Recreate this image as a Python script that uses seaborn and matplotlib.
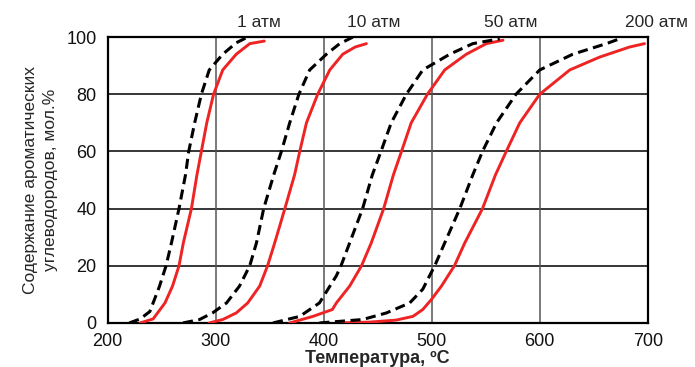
import seaborn as sns
import pandas as pd
from matplotlib import pyplot as plt

# values (temperature in C, aromatics content in mol.%)
pressures = ["1 атм", "10 атм", "50 атм", "200 атм"]
label_x = [340, 446, 573, 708]

# black dashed curves
t_dash_1 = [220, 230, 239, 248, 254, 259, 266, 272, 275, 280.5, 286.7, 294, 306.5, 319, 329.6]
c_dash_1 = [0, 1.4, 4, 12.9, 20, 28, 40, 51.8, 60, 70, 80, 88.5, 94, 98, 100]
t_dash_10 = [269.7, 285, 297, 310, 322, 331.5, 337.7, 344.4, 353.7, 360.8, 368.5, 377, 387, 402.5, 414.8, 427]
c_dash_10 = [0, 1.2, 3.5, 7, 12.9, 20, 28, 40, 51.8, 60, 70, 80, 88.5, 94, 97.7, 100]
t_dash_50 = [353, 377.8, 396, 411.7, 416, 424, 436, 445, 453, 462.5, 476.5, 491.7, 516.7, 538, 563]
c_dash_50 = [0, 2.3, 7, 16.5, 20, 28, 40, 51.8, 60, 70, 80, 88.5, 94, 97.7, 99.4]
t_dash_200 = [396, 436, 458, 479.6, 491.7, 498, 502.8, 512, 526, 538, 547, 560, 578, 600, 630.6, 661.7, 674]
c_dash_200 = [0, 1.2, 3.5, 7, 11.8, 16.5, 20, 28, 40, 51.8, 60, 70, 80, 88.5, 94, 97.7, 99.4]

# red solid curves
t_red_1 = [230, 242, 253, 260, 266, 270, 277.5, 282.6, 286.7, 291.7, 298, 306.5, 319, 331.5, 345]
c_red_1 = [0, 1.4, 7, 12.9, 20, 28, 40, 51.8, 60, 70, 80, 88.5, 94, 97.7, 98.6]
t_red_10 = [294, 306.5, 319, 329.6, 340.7, 348, 354.6, 364, 373, 377.8, 384, 394.4, 405.6, 417.6, 429, 439.5]
c_red_10 = [0, 1.2, 3.5, 7, 12.9, 20, 28, 40, 51.8, 60, 70, 80, 88.5, 94, 96.5, 97.7]
t_red_50 = [368.5, 390, 408, 411.7, 424, 435, 444, 455.5, 464.5, 472, 481, 496, 512, 532, 550.6, 566]
c_red_50 = [0, 2.3, 4.7, 7, 12.9, 20, 28, 40, 51.8, 60, 70, 80, 88.5, 94, 97.7, 98.9]
t_red_200 = [412, 442.6, 467, 482.6, 491.7, 499.7, 509, 521, 530.6, 547, 559, 569, 581.5, 600, 627.8, 655.5, 683, 697]
c_red_200 = [0, 0.3, 1, 2.3, 4.7, 8.2, 12.9, 20, 28, 40, 51.8, 60, 70, 80, 88.5, 93, 96.5, 97.7]

dashed = [(t_dash_1, c_dash_1), (t_dash_10, c_dash_10), (t_dash_50, c_dash_50), (t_dash_200, c_dash_200)]
solid = [(t_red_1, c_red_1), (t_red_10, c_red_10), (t_red_50, c_red_50), (t_red_200, c_red_200)]

sns.set_style("white")
plt.rcParams['font.family'] = ['Liberation Sans', 'DejaVu Sans']

fig = plt.figure(figsize=(6.95, 3.67), dpi=100)
ax = fig.add_axes([0.155, 0.12, 0.777, 0.779])

# grid: black horizontals, grey verticals
for yv in [20, 40, 60, 80]:
    ax.axhline(yv, color="black", lw=1.1, zorder=1)
for xv in [300, 400, 500, 600]:
    ax.axvline(xv, color="#555555", lw=1.1, zorder=1)

for t, c in solid:
    df = pd.DataFrame({"T": t, "C": c})
    sns.lineplot(data=df, x="T", y="C", estimator=None, sort=False,
                 color="#ee2424", lw=2.1, ax=ax, zorder=3)

for t, c in dashed:
    df = pd.DataFrame({"T": t, "C": c})
    sns.lineplot(data=df, x="T", y="C", estimator=None, sort=False,
                 color="black", lw=2.2, ax=ax, zorder=4,
                 dashes=False, linestyle=(0, (3.3, 1.8)))

ax.set_xlim(200, 700)
ax.set_ylim(0, 100)
ax.set_xticks([200, 300, 400, 500, 600, 700])
ax.set_yticks([0, 20, 40, 60, 80, 100])
ax.tick_params(length=0, labelsize=13, colors="#111111")
ax.tick_params(axis="y", pad=8)
ax.tick_params(axis="x", pad=7)

for s in ax.spines.values():
    s.set_color("black")
    s.set_linewidth(1.6)

ax.set_xlabel("Температура, ºС", fontsize=13, fontweight="bold", labelpad=0)
ax.set_ylabel("Содержание ароматических\nуглеводородов, мол.%", fontsize=12.5,
              labelpad=6, linespacing=1.45)

for lbl, xp in zip(pressures, label_x):
    ax.text(xp, 105, lbl, ha="center", va="center", fontsize=12.5, clip_on=False)

fig.savefig("out.png", dpi=100)
